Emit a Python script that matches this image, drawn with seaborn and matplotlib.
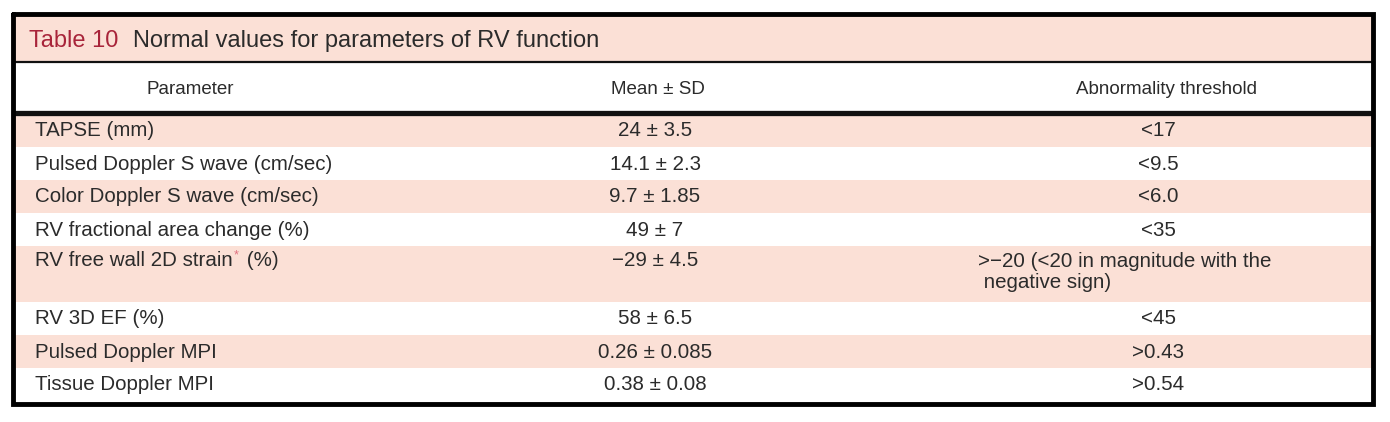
import matplotlib
matplotlib.use("Agg")
import matplotlib.pyplot as plt
import seaborn as sns

# table content
title_num = "Table 10"
title_text = "Normal values for parameters of RV function"
headers = ["Parameter", "Mean \u00b1 SD", "Abnormality threshold"]
parameters = [
    "TAPSE (mm)",
    "Pulsed Doppler S wave (cm/sec)",
    "Color Doppler S wave (cm/sec)",
    "RV fractional area change (%)",
    "RV free wall 2D strain* (%)",
    "RV 3D EF (%)",
    "Pulsed Doppler MPI",
    "Tissue Doppler MPI",
]
mean_sd = [
    "24 \u00b1 3.5",
    "14.1 \u00b1 2.3",
    "9.7 \u00b1 1.85",
    "49 \u00b1 7",
    "\u221229 \u00b1 4.5",
    "58 \u00b1 6.5",
    "0.26 \u00b1 0.085",
    "0.38 \u00b1 0.08",
]
thresholds = [
    "<17",
    "<9.5",
    "<6.0",
    "<35",
    ">\u221220 (<20 in magnitude with the\n negative sign)",
    "<45",
    ">0.43",
    ">0.54",
]

sns.set_style("white")
plt.rcParams["font.family"] = ["Liberation Sans", "DejaVu Sans"]

PINK = "#fbe0d6"
TXT = "#2b2b2b"
RED = "#a8243a"

fig = plt.figure(figsize=(13.9, 4.22), dpi=100)
ax = fig.add_axes([0, 0, 1, 1])
ax.set_xlim(0, 1390)
ax.set_ylim(422, 0)
ax.axis("off")

left, right = 13, 1373
top, bottom = 14, 404

# title band
ax.axhspan(top, 62, xmin=left / 1390, xmax=right / 1390, color=PINK, lw=0)
ax.text(29, 41, title_num, color=RED, fontsize=17, va="center", ha="left")
ax.text(133, 41, title_text, color=TXT, fontsize=17, va="center", ha="left")

# header
ax.plot([left, right], [62, 62], color="#111111", lw=1.6, solid_capstyle="butt")
col_x = [190, 658, 1166]
for x, h in zip(col_x, headers):
    ax.text(x, 89, h, color=TXT, fontsize=13.5, ha="center", va="center")
ax.plot([left, right], [112.5, 112.5], color="#111111", lw=3.8, solid_capstyle="butt")

# body rows
row_h, extra = 33, 23
y = 114
fig.canvas.draw()
renderer = fig.canvas.get_renderer()
inv = ax.transData.inverted()
for i, (p, m, t) in enumerate(zip(parameters, mean_sd, thresholds)):
    nlines = t.count("\n") + 1
    h = row_h + extra * (nlines - 1)
    if i % 2 == 0:
        ax.axhspan(y, y + h, xmin=left / 1390, xmax=right / 1390, color=PINK, lw=0)
    yc = y + 17 if nlines == 1 else y + 15

    # parameter, with a small superscript asterisk where marked
    parts = p.split("*")
    tx = ax.text(35, yc, parts[0], color=TXT, fontsize=14.8, ha="left", va="center")
    if len(parts) > 1:
        bb = tx.get_window_extent(renderer)
        xs = inv.transform((bb.x1 + 1, 0))[0]
        ax.text(xs, yc - 6, "*", color="#e07080", fontsize=9, ha="left", va="center")
        xr = inv.transform((bb.x1 + 8, 0))[0]
        ax.text(xr, yc, parts[1], color=TXT, fontsize=14.8, ha="left", va="center")

    ax.text(655, yc, m, color=TXT, fontsize=14.8, ha="center", va="center")
    if nlines == 1:
        ax.text(1158, yc, t, color=TXT, fontsize=14.8, ha="center", va="center")
    else:
        ax.text(978, yc - 9, t, color=TXT, fontsize=14.8, ha="left", va="top",
                linespacing=1.15)
    y += h

# outer frame
ax.plot([left, right, right, left, left], [top, top, bottom, bottom, top],
        color="#000000", lw=3.5, solid_joinstyle="miter")

fig.savefig("out.png", dpi=100)
